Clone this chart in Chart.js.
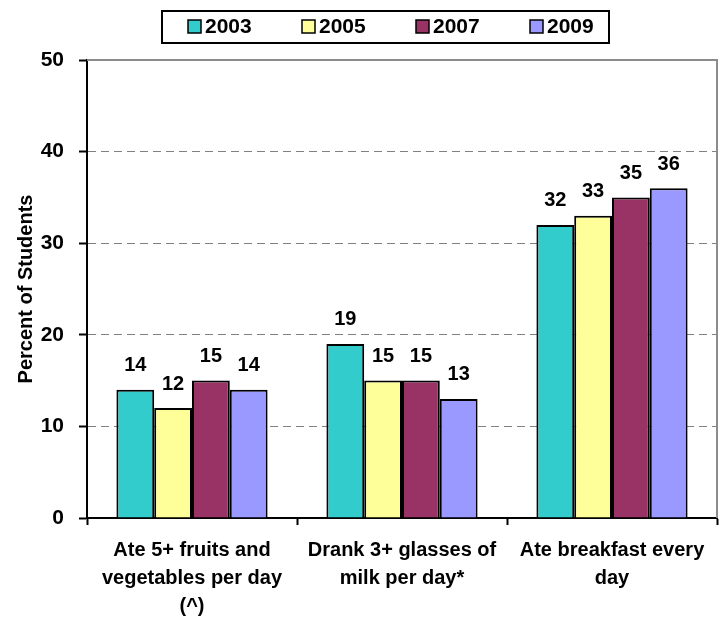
<!DOCTYPE html>
<html>
<head>
<meta charset="utf-8">
<script src="https://cdn.jsdelivr.net/npm/chart.js@4/dist/chart.umd.min.js"></script>
<style>
  html, body { margin: 0; padding: 0; background: #ffffff; }
  #wrap { width: 719px; height: 618px; position: relative; }
</style>
</head>
<body>
<div id="wrap"><canvas id="c" width="719" height="618"></canvas></div>
<script>
const categories = [
  ["Ate 5+ fruits and", "vegetables per day", "(^)"],
  ["Drank 3+ glasses of", "milk per day*"],
  ["Ate breakfast every", "day"]
];
const seriesNames = ["2003", "2005", "2007", "2009"];
const seriesColors = ["#33CCCC", "#FFFF99", "#993366", "#9999FF"];
const values2003 = [14, 19, 32];
const values2005 = [12, 15, 33];
const values2007 = [15, 15, 35];
const values2009 = [14, 13, 36];
const yTicks = [0, 10, 20, 30, 40, 50];
const yTitle = "Percent of Students";

const FONT = "'Liberation Sans', Arial, sans-serif";
const seriesValues = [values2003, values2005, values2007, values2009];

const valueLabels = {
  id: 'valueLabels',
  afterDatasetsDraw(chart) {
    const ctx = chart.ctx;
    ctx.save();
    ctx.font = "bold 20px " + FONT;
    ctx.fillStyle = "#000";
    ctx.textAlign = "center";
    ctx.textBaseline = "middle";
    chart.data.datasets.forEach((ds, di) => {
      const meta = chart.getDatasetMeta(di);
      meta.data.forEach((el, i) => {
        ctx.fillText(String(ds.data[i]), el.x, el.y - 24);
      });
    });
    ctx.restore();
  }
};

const frame = {
  id: 'frame',
  beforeDatasetsDraw(chart) {
    const {ctx, chartArea: a} = chart;
    ctx.save();
    ctx.strokeStyle = "#8c8c8c";
    ctx.lineWidth = 2;
    ctx.beginPath();
    ctx.moveTo(a.left, a.top);
    ctx.lineTo(a.right, a.top);
    ctx.lineTo(a.right, a.bottom);
    ctx.stroke();
    ctx.restore();
  }
};

const boxLegend = {
  id: 'boxLegend',
  afterDraw(chart) {
    const ctx = chart.ctx;
    ctx.save();
    ctx.lineWidth = 2;
    ctx.strokeStyle = "#000";
    ctx.strokeRect(162, 11, 447, 32);
    ctx.font = "bold 21px " + FONT;
    ctx.textBaseline = "middle";
    ctx.textAlign = "left";
    chart.data.datasets.forEach((ds, i) => {
      const x0 = 188 + i * 114;
      ctx.fillStyle = ds.backgroundColor;
      ctx.fillRect(x0, 20, 13, 13);
      ctx.lineWidth = 1.5;
      ctx.strokeRect(x0, 20, 13, 13);
      ctx.fillStyle = "#000";
      ctx.fillText(ds.label, x0 + 17, 27.5);
    });
    ctx.restore();
  }
};

new Chart(document.getElementById('c'), {
  type: 'bar',
  data: {
    labels: categories,
    datasets: seriesNames.map((n, i) => ({
      label: n,
      data: seriesValues[i],
      backgroundColor: seriesColors[i],
      borderColor: "#000",
      borderWidth: 2,
      borderSkipped: 'bottom',
      categoryPercentage: 0.72,
      barPercentage: 1.0
    }))
  },
  options: {
    responsive: false,
    animation: false,
    events: [],
    layout: { padding: { top: 60, right: 2, left: 0, bottom: 0 } },
    plugins: { legend: { display: false }, tooltip: { enabled: false } },
    scales: {
      x: {
        afterFit(s) { s.height = 100; },
        grid: { offset: true, drawOnChartArea: false, tickLength: 7, tickColor: "#000", tickWidth: 2 },
        border: { display: true, color: "#000", width: 2 },
        ticks: { color: "#000", font: { family: FONT, size: 20, weight: 'bold', lineHeight: 1.4 }, padding: 11, maxRotation: 0, autoSkip: false }
      },
      y: {
        min: 0, max: 50,
        afterFit(s) { s.width = 87; },
        afterBuildTicks(s) { s.ticks = yTicks.map(v => ({ value: v })); },
        grid: {
          color: (c) => (c.tick && (c.tick.value === 0 || c.tick.value === 50)) ? 'rgba(0,0,0,0)' : '#808080',
          lineWidth: 1,
          tickLength: 8, tickColor: "#000", tickWidth: 2
        },
        border: { display: true, color: "#000", width: 2, dash: [8, 5] },
        ticks: { color: "#000", font: { family: FONT, size: 21, weight: 'bold' }, padding: 15 },
        title: { display: true, text: yTitle, color: "#000", font: { family: FONT, size: 20, weight: 'bold' }, padding: { top: 14, bottom: 0 } }
      }
    }
  },
  plugins: [frame, valueLabels, boxLegend]
});
</script>
</body>
</html>
